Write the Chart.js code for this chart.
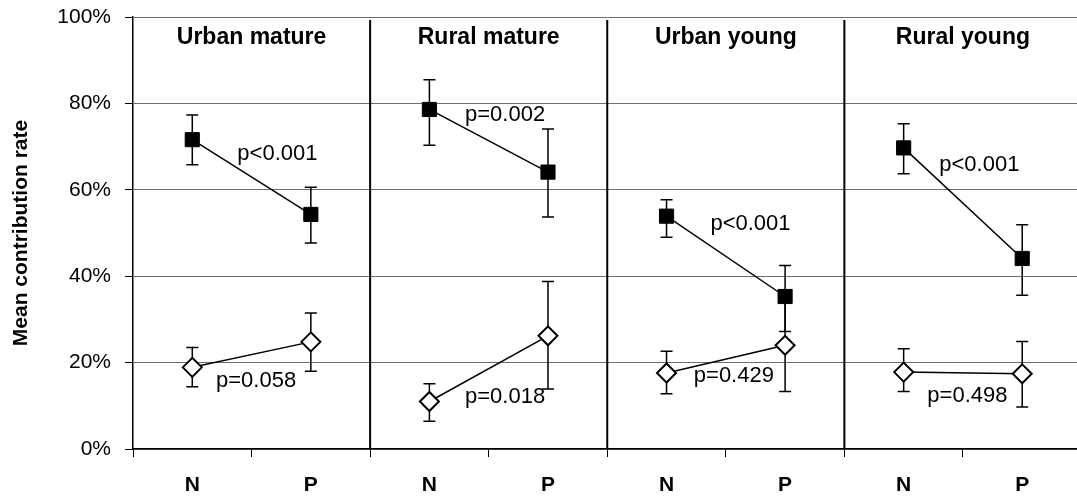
<!DOCTYPE html>
<html>
<head>
<meta charset="utf-8">
<script src="https://cdn.jsdelivr.net/npm/chart.js@4.4.1/dist/chart.umd.min.js"></script>
<style>
  html, body { margin: 0; padding: 0; background: #fff; overflow: hidden; }
  canvas { display: block; }
</style>
</head>
<body>
<canvas id="chart" width="1093" height="499"></canvas>
<script>
// Categories along x: N / P for each of the four groups
const categories = ["N", "P", "N", "P", "N", "P", "N", "P"];
const panels = ["Urban mature", "Rural mature", "Urban young", "Rural young"];

// Filled squares (upper series), in %
const squareMean = [71.6, 54.3, 78.6, 64.1, 53.9, 35.3, 69.7, 44.1];
const squareLow = [65.8, 47.7, 70.3, 53.7, 49.0, 27.2, 63.7, 35.6];
const squareHigh = [77.3, 60.6, 85.5, 74.1, 57.7, 42.5, 75.3, 51.9];

// Open diamonds (lower series), in %
const diamondMean = [18.9, 24.8, 11.0, 26.2, 17.6, 24.0, 17.8, 17.4];
const diamondLow = [14.4, 18.0, 6.4, 13.9, 12.8, 13.3, 13.3, 9.7];
const diamondHigh = [23.5, 31.5, 15.1, 38.8, 22.6, 34.7, 23.2, 24.9];

// p-value labels
const pLabels = ["p<0.001", "p=0.058", "p=0.002", "p=0.018", "p<0.001", "p=0.429", "p<0.001", "p=0.498"];
// where each label sits: left edge in category units, middle in %
const pLabelX = [0.38, 0.20, 2.30, 2.30, 4.37, 4.23, 6.30, 6.20];
const pLabelY = [68.2, 15.8, 77.4, 12.1, 52.2, 16.9, 65.8, 12.3];

const FONT = "'Liberation Sans', Arial, sans-serif";

// don't join P of one group to N of the next
const hideBetweenGroups = {
  borderColor: (ctx) => (ctx.p0DataIndex % 2 === 1 ? "rgba(0,0,0,0)" : "#000"),
};

// error bars under the markers
const errorBars = {
  id: "errorBars",
  beforeDatasetsDraw(chart) {
    const { ctx, scales } = chart;
    const sets = [
      [squareLow, squareHigh],
      [diamondLow, diamondHigh],
    ];
    ctx.save();
    ctx.strokeStyle = "#000";
    ctx.lineWidth = 1.5;
    sets.forEach(([low, high]) => {
      low.forEach((lo, i) => {
        const x = scales.x.getPixelForValue(i);
        const y1 = scales.y.getPixelForValue(lo);
        const y2 = scales.y.getPixelForValue(high[i]);
        ctx.beginPath();
        ctx.moveTo(x, y1);
        ctx.lineTo(x, y2);
        ctx.moveTo(x - 6, y1);
        ctx.lineTo(x + 6, y1);
        ctx.moveTo(x - 6, y2);
        ctx.lineTo(x + 6, y2);
        ctx.stroke();
      });
    });
    ctx.restore();
  },
};

// vertical separators between the groups, group titles, p-values
const groupDecor = {
  id: "groupDecor",
  beforeDatasetsDraw(chart) {
    const { ctx, scales, chartArea } = chart;
    ctx.save();
    ctx.strokeStyle = "#000";
    ctx.lineWidth = 2;
    for (let g = 1; g < panels.length; g++) {
      const x = (scales.x.getPixelForValue(2 * g - 1) + scales.x.getPixelForValue(2 * g)) / 2;
      ctx.beginPath();
      ctx.moveTo(x, chartArea.top + 3);
      ctx.lineTo(x, chartArea.bottom);
      ctx.stroke();
    }
    ctx.fillStyle = "#000";
    ctx.font = "bold 23px " + FONT;
    ctx.textAlign = "center";
    ctx.textBaseline = "middle";
    panels.forEach((name, g) => {
      const x = (scales.x.getPixelForValue(2 * g) + scales.x.getPixelForValue(2 * g + 1)) / 2;
      ctx.fillText(name, x, scales.y.getPixelForValue(95.3));
    });
    ctx.restore();
  },
  afterDatasetsDraw(chart) {
    const { ctx, scales } = chart;
    const step = scales.x.getPixelForValue(1) - scales.x.getPixelForValue(0);
    ctx.save();
    ctx.fillStyle = "#000";
    ctx.font = "22px " + FONT;
    ctx.textAlign = "left";
    ctx.textBaseline = "middle";
    pLabels.forEach((txt, i) => {
      const x = scales.x.getPixelForValue(0) + pLabelX[i] * step;
      ctx.fillText(txt, x, scales.y.getPixelForValue(pLabelY[i]));
    });
    ctx.restore();
  },
};

new Chart(document.getElementById("chart"), {
  type: "line",
  data: {
    labels: categories,
    datasets: [
      {
        data: squareMean,
        borderColor: "#000",
        borderWidth: 1.5,
        pointStyle: "rect",
        pointRadius: 10,
        pointBackgroundColor: "#000",
        pointBorderColor: "#000",
        pointBorderWidth: 1,
        segment: hideBetweenGroups,
      },
      {
        data: diamondMean,
        borderColor: "#000",
        borderWidth: 1.5,
        pointStyle: "rectRot",
        pointRadius: 9.5,
        pointBackgroundColor: "#fff",
        pointBorderColor: "#000",
        pointBorderWidth: 2,
        segment: hideBetweenGroups,
      },
    ],
  },
  options: {
    responsive: false,
    animation: false,
    layout: { padding: { top: 17, left: 0, right: 0, bottom: 0 } },
    plugins: {
      legend: { display: false },
      tooltip: { enabled: false },
    },
    scales: {
      x: {
        offset: true,
        grid: {
          offset: true,
          drawOnChartArea: false,
          drawTicks: true,
          tickLength: 8,
          tickColor: "#000",
          tickWidth: 1,
        },
        border: { color: "#000", width: 1.5 },
        ticks: {
          color: "#000",
          font: { family: FONT, size: 21, weight: "bold" },
          padding: 16,
          maxRotation: 0,
          autoSkip: false,
        },
        afterFit: (scale) => { scale.height = 50; },
      },
      y: {
        min: 0,
        max: 100,
        grid: {
          color: "#6e6e6e",
          lineWidth: 1,
          tickLength: 8,
          tickColor: "#000",
        },
        border: { color: "#000", width: 1.5 },
        ticks: {
          stepSize: 20,
          color: "#000",
          padding: 14,
          font: { family: FONT, size: 21 },
          callback: (v) => v + "%",
        },
        title: {
          display: true,
          text: "Mean contribution rate",
          color: "#000",
          font: { family: FONT, size: 21, weight: "bold" },
          padding: { top: 9, bottom: 0 },
        },
        afterFit: (scale) => {
          scale.width = 133;
          scale.paddingTop = 0;
          scale.paddingBottom = 0;
        },
      },
    },
  },
  plugins: [errorBars, groupDecor],
});
</script>
</body>
</html>
